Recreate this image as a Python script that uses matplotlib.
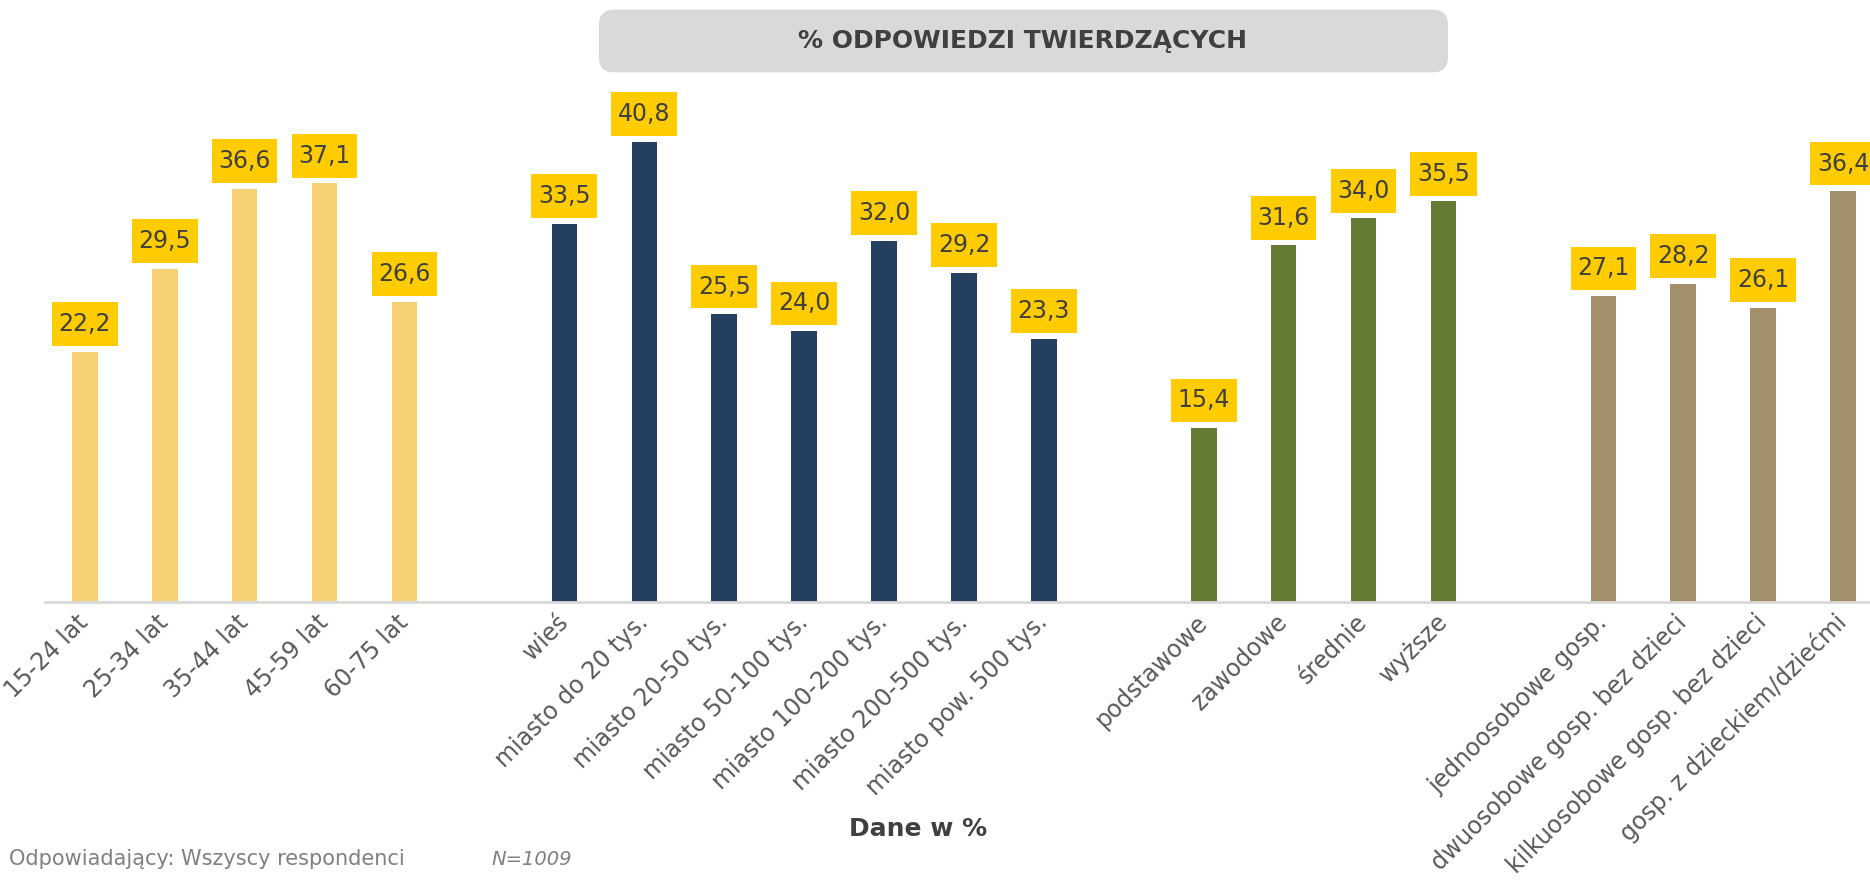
import matplotlib
matplotlib.use("Agg")
import matplotlib.pyplot as plt
from matplotlib.patches import FancyBboxPatch
from matplotlib.path import Path

plt.rcParams['font.family'] = ['DejaVu Sans']

age_labels = ["15-24 lat", "25-34 lat", "35-44 lat", "45-59 lat", "60-75 lat"]
age_values = [22.2, 29.5, 36.6, 37.1, 26.6]
place_labels = ["wieś", "miasto do 20 tys.", "miasto 20-50 tys.", "miasto 50-100 tys.",
                "miasto 100-200 tys.", "miasto 200-500 tys.", "miasto pow. 500 tys."]
place_values = [33.5, 40.8, 25.5, 24.0, 32.0, 29.2, 23.3]
edu_labels = ["podstawowe", "zawodowe", "średnie", "wyższe"]
edu_values = [15.4, 31.6, 34.0, 35.5]
house_labels = ["jednoosobowe gosp.", "dwuosobowe gosp. bez dzieci",
                "kilkuosobowe gosp. bez dzieci", "gosp. z dzieckiem/dziećmi"]
house_values = [27.1, 28.2, 26.1, 36.4]

groups = [
    (age_labels, age_values, "#F6D173"),
    (place_labels, place_values, "#243F60"),
    (edu_labels, edu_values, "#637B33"),
    (house_labels, house_values, "#A48F6B"),
]


def label_box(x0, y0, width, height, mutation_size):
    px = 0.28 * mutation_size
    py = 0.42 * mutation_size
    x0, x1 = x0 - px, x0 + width + px
    y0, y1 = y0 - py, y0 + height + py
    return Path([(x0, y0), (x1, y0), (x1, y1), (x0, y1), (x0, y0)], closed=True)


fig = plt.figure(figsize=(18.7, 8.82), dpi=100)
ax = fig.add_axes([0.024, 0.3175, 0.983, 0.5756])

positions = []
labels = []
pos = 0
for lab, vals, col in groups:
    xs = list(range(pos, pos + len(vals)))
    ax.bar(xs, vals, width=0.32, color=col, zorder=2)
    for x, v in zip(xs, vals):
        ax.annotate(f"{v:.1f}".replace(".", ","), xy=(x, v), xytext=(0, 20),
                    textcoords="offset points", ha="center", va="center",
                    fontsize=17, color="#404040",
                    bbox=dict(boxstyle=label_box, fc="#FFCC00", ec="none"),
                    annotation_clip=False, zorder=3)
    positions += xs
    labels += lab
    pos += len(vals) + 1

ax.set_xlim(-0.5, 22.5)
ax.set_ylim(0, 45)
ax.set_xticks(positions)
ax.set_xticklabels(labels, rotation=45, ha="right", va="center",
                   rotation_mode="anchor", fontsize=17, color="#595959")
ax.tick_params(axis="x", length=0, pad=12)
ax.set_yticks([])
for s in ["top", "right", "left"]:
    ax.spines[s].set_visible(False)
ax.spines["bottom"].set_color("#D9D9D9")
ax.spines["bottom"].set_linewidth(2)

# Title box
box = FancyBboxPatch((0.3203, 0.918), 0.4540, 0.071,
                     boxstyle="round,pad=0,rounding_size=0.008",
                     transform=fig.transFigure, fc="#D9D9D9", ec="none",
                     mutation_aspect=1870/882)
fig.patches.append(box)
fig.text(0.547, 0.953, "% ODPOWIEDZI TWIERDZĄCYCH", ha="center", va="center",
         fontsize=18, fontweight="bold", color="#404040")

fig.text(0.491, 0.060, "Dane w %", ha="center", va="center",
         fontsize=18, fontweight="bold", color="#404040")
fig.text(0.005, 0.026, "Odpowiadający: Wszyscy respondenci", ha="left", va="center",
         fontsize=15, color="#808080")
fig.text(0.263, 0.026, "N=1009", ha="left", va="center",
         fontsize=14, color="#808080", style="italic")

fig.savefig("out.png", dpi=100)
